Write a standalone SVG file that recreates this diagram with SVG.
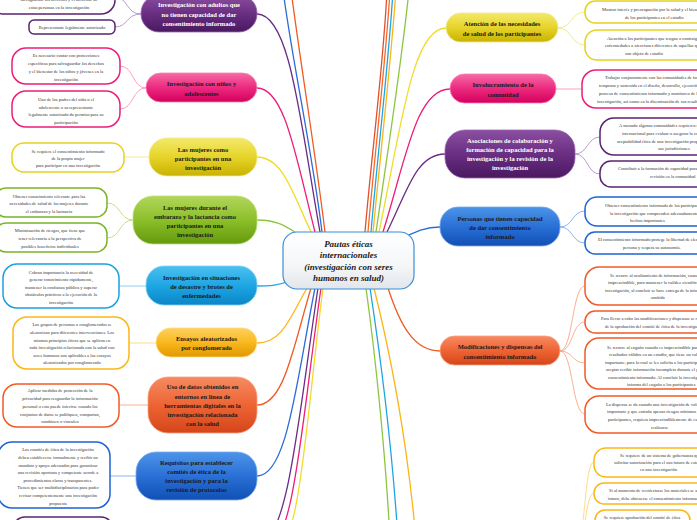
<svg xmlns="http://www.w3.org/2000/svg" width="697" height="520" viewBox="0 0 697 520">
<defs>
<linearGradient id="gPurple" x1="0" y1="0" x2="0" y2="1"><stop offset="0" stop-color="#8a4fa0"/><stop offset="0.5" stop-color="#6a2f82"/><stop offset="1" stop-color="#4a1860"/></linearGradient>
<linearGradient id="gPink" x1="0" y1="0" x2="0" y2="1"><stop offset="0" stop-color="#f56aa4"/><stop offset="0.5" stop-color="#ec2a80"/><stop offset="1" stop-color="#d4005c"/></linearGradient>
<linearGradient id="gYellow" x1="0" y1="0" x2="0" y2="1"><stop offset="0" stop-color="#f3e96a"/><stop offset="0.5" stop-color="#e6d42a"/><stop offset="1" stop-color="#c9b200"/></linearGradient>
<linearGradient id="gGreen" x1="0" y1="0" x2="0" y2="1"><stop offset="0" stop-color="#b2d65a"/><stop offset="0.5" stop-color="#8cbf2a"/><stop offset="1" stop-color="#649a0c"/></linearGradient>
<linearGradient id="gCyan" x1="0" y1="0" x2="0" y2="1"><stop offset="0" stop-color="#4cc0f0"/><stop offset="0.5" stop-color="#1ea6e4"/><stop offset="1" stop-color="#0a86c6"/></linearGradient>
<linearGradient id="gAmber" x1="0" y1="0" x2="0" y2="1"><stop offset="0" stop-color="#fdd060"/><stop offset="0.5" stop-color="#f9b81e"/><stop offset="1" stop-color="#e39800"/></linearGradient>
<linearGradient id="gRed" x1="0" y1="0" x2="0" y2="1"><stop offset="0" stop-color="#f68a62"/><stop offset="0.5" stop-color="#ee6434"/><stop offset="1" stop-color="#d4461a"/></linearGradient>
<linearGradient id="gBlue" x1="0" y1="0" x2="0" y2="1"><stop offset="0" stop-color="#4c94e8"/><stop offset="0.5" stop-color="#2a70d6"/><stop offset="1" stop-color="#1050b4"/></linearGradient>
<linearGradient id="gCenter" x1="0" y1="0" x2="0" y2="1"><stop offset="0" stop-color="#ffffff"/><stop offset="0.6" stop-color="#f4f6f8"/><stop offset="1" stop-color="#e2e6ea"/></linearGradient>
</defs>
<style>
.mt{font-family:"Liberation Serif",serif;font-weight:bold;font-size:6.5px;text-anchor:middle;fill:#1a1a1a}
.wt{fill:#ffffff}
.ct{font-family:"Liberation Serif",serif;font-size:4.5px;fill:#333333;text-anchor:middle}
.cl{text-anchor:start}
.box{fill:#ffffff;stroke-width:1.5}
.lk{fill:none;stroke-width:1.3}
.sb{fill:none;stroke-width:0.8}
.cen{font-family:"Liberation Serif",serif;font-weight:bold;font-style:italic;font-size:9px;text-anchor:middle;fill:#1a1a1a}
</style>
<rect width="697" height="520" fill="#ffffff"/>

<g id="connectors">
<!-- left upper -->
<path class="lk" stroke="#6a2d85" d="M320,232 C300,120 290,14 257,14"/>
<path class="lk" stroke="#ec1e79" d="M315,232 C296,158 285,88 257,88"/>
<path class="lk" stroke="#f0dc28" d="M311,232 C293,194 283,157 257,157"/>
<path class="lk" stroke="#8cc63f" d="M298,234 C285,226 277,220 257,220"/>
<path class="lk" stroke="#2b6dd6" d="M322,232 C312,150 292,60 283,-10"/>
<path class="lk" stroke="#f15a24" d="M325,232 C315,150 300,60 291,-10"/>
<!-- right upper -->
<path class="lk" stroke="#e0502c" d="M365,232 C372,150 384,60 387,-10"/>
<path class="lk" stroke="#f36b2a" d="M368,232 C375,150 386,60 390,-10"/>
<path class="lk" stroke="#1ea5e0" d="M371,232 C378,150 389,60 393,-10"/>
<path class="lk" stroke="#fbb616" d="M373,232 C381,150 391,60 396,-10"/>
<path class="lk" stroke="#8cc63f" d="M376,232 C388,150 402,60 409,-10"/>
<path class="lk" stroke="#f0dc28" d="M379,232 C401,128 412,28 446,28"/>
<path class="lk" stroke="#ec1e79" d="M383,232 C406,159 416,89 450,89"/>
<path class="lk" stroke="#6a2d85" d="M387,232 C407,192 416,154 445,154"/>
<path class="lk" stroke="#2b6dd6" d="M405,237 C415,232 425,227 440,227"/>
<!-- left lower -->
<path class="lk" stroke="#1ea5e0" d="M289,281 C278,286 268,286 257,286"/>
<path class="lk" stroke="#fbb616" d="M307,288 C290,318 282,343 257,343"/>
<path class="lk" stroke="#f15a24" d="M311,288 C293,348 284,405 257,405"/>
<path class="lk" stroke="#2b6dd6" d="M315,288 C296,384 287,476 257,476"/>
<path class="lk" stroke="#6a2d85" d="M318,288 C298,419 288,545 257,545"/>
<path class="lk" stroke="#ec1e79" d="M321,288 C302,419 294,550 265,550"/>
<path class="lk" stroke="#f0dc28" d="M323,288 C306,419 300,555 272,555"/>
<!-- right lower -->
<path class="lk" stroke="#f15a24" d="M388,288 C400,325 414,351 440,351"/>
<path class="lk" stroke="#8cc63f" d="M366,288 C376,360 386,460 390,540"/>
<path class="lk" stroke="#1ea5e0" d="M370,288 C381,360 393,460 398,540"/>
<path class="lk" stroke="#fbb616" d="M374,288 C392,360 408,450 416,540"/>
<!-- sub connectors -->
<path class="sb" stroke="#a97fc0" d="M141,14 C126,14 128,-3 115,-3 M141,14 C126,14 128,27 115,27"/>
<path class="sb" stroke="#f58bb5" d="M146,88 C132,88 134,66 120,66 M146,88 C132,88 134,109 120,109"/>
<path class="sb" stroke="#efe27a" d="M149,157 L124,157"/>
<path class="sb" stroke="#b5d96a" d="M133,220 C119,220 121,203 107,203 M133,220 C119,220 121,238 107,238"/>
<path class="sb" stroke="#6cc6ee" d="M146,286 L119,286"/>
<path class="sb" stroke="#fbd36a" d="M156,343 L129,343"/>
<path class="sb" stroke="#f79a7a" d="M148,405 L119,405"/>
<path class="sb" stroke="#6e9ee8" d="M136,476 L110,476"/>
<path class="sb" stroke="#efe27a" d="M558,28 C572,28 571,12 585,12 M558,28 C572,28 571,45 585,45"/>
<path class="sb" stroke="#f58bb5" d="M556,89 L582,89"/>
<path class="sb" stroke="#a97fc0" d="M575,154 C588,154 587,137 600,137 M575,154 C588,154 587,174 600,174"/>
<path class="sb" stroke="#6e9ee8" d="M560,227 C573,227 572,211 585,211 M560,227 C573,227 572,243 585,243"/>
<path class="sb" stroke="#f79a7a" d="M560,351 C573,351 572,286 585,286 M560,351 C573,351 572,322 585,322 M560,351 C573,351 572,363 585,363 M560,351 C573,351 572,414 585,414"/>
<path class="sb" stroke="#fbd36a" d="M575,545 C586,545 584,462 594,462 M575,545 C586,545 585,493 594,493 M575,545 C586,545 587,524 595,524"/>
</g>

<g id="center">
<rect x="283" y="232" width="131" height="57" rx="14" fill="url(#gCenter)" stroke="#3a8fd8" stroke-width="1.2"/>
<text class="cen" x="348.5" y="246.5">Pautas éticas</text>
<text class="cen" x="348.5" y="258">internacionales</text>
<text class="cen" x="348.5" y="269.5">(investigación con seres</text>
<text class="cen" x="348.5" y="281">humanos en salud)</text>
</g>

<g id="n-adultos">
<rect x="141" y="-5" width="116" height="37" rx="18" fill="url(#gPurple)" stroke="#9a66b0" stroke-width="0.8"/>
<text class="mt wt" x="199" y="7">Investigación con adultos que</text>
<text class="mt wt" x="199" y="16.5">no tienen capacidad de dar</text>
<text class="mt wt" x="199" y="26">consentimiento informado</text>
</g>
<g id="c-adultos-1">
<rect class="box" stroke="#5a2370" x="-10" y="-25" width="125" height="39" rx="14"/>
<text class="ct" x="59" y="1">salvaguardar los derechos y el bienestar de</text>
<text class="ct" x="59" y="8.5">estas personas en la investigación</text>
</g>
<g id="c-adultos-2">
<rect class="box" stroke="#5a2370" x="29" y="20" width="86" height="14" rx="5"/>
<text class="ct" x="72" y="28.5">Representante legalmente autorizado</text>
</g>

<g id="n-ninos">
<rect x="146" y="73" width="111" height="29" rx="14.5" fill="url(#gPink)" stroke="#f580b0" stroke-width="0.8"/>
<text class="mt" x="201.5" y="86">Investigación con niños y</text>
<text class="mt" x="201.5" y="95.5">adolescentes</text>
</g>
<g id="c-ninos-1">
<rect class="box" stroke="#ec1e79" x="12" y="48" width="108" height="36" rx="14"/>
<text class="ct" x="66" y="56.5">Es necesario contar con protecciones</text>
<text class="ct" x="66" y="64.5">específicas para salvaguardar los derechos</text>
<text class="ct" x="66" y="72.5">y el bienestar de los niños y jóvenes en la</text>
<text class="ct" x="66" y="80.5">investigación</text>
</g>
<g id="c-ninos-2">
<rect class="box" stroke="#ec1e79" x="12" y="91" width="108" height="36" rx="14"/>
<text class="ct" x="66" y="100.5">Uno de los padres del niño o el</text>
<text class="ct" x="66" y="108.5">adolescente o su representante</text>
<text class="ct" x="66" y="116">legalmente autorizado da permiso para su</text>
<text class="ct" x="66" y="123.5">participación</text>
</g>

<g id="n-mujeres">
<rect x="149" y="138" width="108" height="38" rx="18" fill="url(#gYellow)" stroke="#f3e98a" stroke-width="0.8"/>
<text class="mt" x="203" y="152">Las mujeres como</text>
<text class="mt" x="203" y="161">participantes en una</text>
<text class="mt" x="203" y="170">investigación</text>
</g>
<g id="c-mujeres-1">
<rect class="box" stroke="#e6d21e" x="12" y="143" width="112" height="29" rx="12"/>
<text class="ct" x="68" y="152.5">Se requiere el consentimiento informado</text>
<text class="ct" x="68" y="159.5">de la propia mujer</text>
<text class="ct" x="68" y="166.5">para participar en una investigación</text>
</g>

<g id="n-embarazo">
<rect x="133" y="196" width="124" height="48" rx="20" fill="url(#gGreen)" stroke="#bde07a" stroke-width="0.8"/>
<text class="mt" x="195" y="210">Las mujeres durante el</text>
<text class="mt" x="195" y="219">embarazo y la lactancia como</text>
<text class="mt" x="195" y="228">participantes en una</text>
<text class="mt" x="195" y="237">investigación</text>
</g>
<g id="c-embarazo-1">
<rect class="box" stroke="#7ab526" x="-5" y="188" width="112" height="29" rx="11"/>
<text class="ct" x="49" y="197.5">Obtener conocimiento relevante para las</text>
<text class="ct" x="49" y="205">necesidades de salud de las mujeres durante</text>
<text class="ct" x="49" y="212.5">el embarazo y la lactancia</text>
</g>
<g id="c-embarazo-2">
<rect class="box" stroke="#7ab526" x="-5" y="223" width="112" height="29" rx="11"/>
<text class="ct" x="50" y="231.5">Minimización de riesgos, que tiene que</text>
<text class="ct" x="50" y="239.5">tener relevancia a la perspectiva de</text>
<text class="ct" x="50" y="248">posibles beneficios individuales</text>
</g>

<g id="n-desastre">
<rect x="146" y="266" width="111" height="39" rx="18" fill="url(#gCyan)" stroke="#7ed2f4" stroke-width="0.8"/>
<text class="mt" x="201.5" y="280">Investigación en situaciones</text>
<text class="mt" x="201.5" y="289">de desastre y brotes de</text>
<text class="mt" x="201.5" y="298">enfermedades</text>
</g>
<g id="c-desastre-1">
<rect class="box" stroke="#1ba1e2" x="3" y="264" width="116" height="44" rx="14"/>
<text class="ct" x="61" y="273.5">Cobran importancia la necesidad de</text>
<text class="ct" x="61" y="280.5">generar conocimiento rápidamente,</text>
<text class="ct" x="61" y="288.5">mantener la confianza pública y superar</text>
<text class="ct" x="61" y="295.5">obstáculos prácticos a la ejecución de la</text>
<text class="ct" x="61" y="303.5">investigación</text>
</g>

<g id="n-conglomerado">
<rect x="156" y="328" width="101" height="29" rx="14.5" fill="url(#gAmber)" stroke="#fddc86" stroke-width="0.8"/>
<text class="mt" x="206.5" y="341">Ensayos aleatorizados</text>
<text class="mt" x="206.5" y="350">por conglomerado</text>
</g>
<g id="c-conglomerado-1">
<rect class="box" stroke="#fbb616" x="13" y="317" width="116" height="52" rx="14"/>
<text class="ct" x="72" y="325.5">Los grupos de personas o conglomerados se</text>
<text class="ct" x="72" y="333.5">aleatorizan para diferentes intervenciones. Los</text>
<text class="ct" x="72" y="341.5">mismos principios éticos que se aplican en</text>
<text class="ct" x="72" y="348.5">toda investigación relacionada con la salud con</text>
<text class="ct" x="72" y="356.5">seres humanos son aplicables a los ensayos</text>
<text class="ct" x="72" y="363.5">aleatorizados por conglomerado</text>
</g>

<g id="n-datos">
<rect x="148" y="377" width="109" height="56" rx="20" fill="url(#gRed)" stroke="#f8a283" stroke-width="0.8"/>
<text class="mt" x="202.5" y="389">Uso de datos obtenidos en</text>
<text class="mt" x="202.5" y="399">entornos en línea de</text>
<text class="mt" x="202.5" y="408">herramientas digitales en la</text>
<text class="mt" x="202.5" y="417">investigación relacionada</text>
<text class="mt" x="202.5" y="426">con la salud</text>
</g>
<g id="c-datos-1">
<rect class="box" stroke="#f05a28" x="3" y="384" width="116" height="43" rx="14"/>
<text class="ct" x="60" y="392">Aplicar medidas de protección de la</text>
<text class="ct" x="60" y="399.5">privacidad para resguardar la información</text>
<text class="ct" x="60" y="407.5">personal o esta puede inferirse cuando los</text>
<text class="ct" x="60" y="415.5">conjuntos de datos se publiquen, compartan,</text>
<text class="ct" x="60" y="422.5">combinen o vinculen</text>
</g>

<g id="n-comites">
<rect x="136" y="452" width="121" height="48" rx="20" fill="url(#gBlue)" stroke="#7aaaf0" stroke-width="0.8"/>
<text class="mt" x="196.5" y="465">Requisitos para establecer</text>
<text class="mt" x="196.5" y="474">comités de ética de la</text>
<text class="mt" x="196.5" y="483">investigación y para la</text>
<text class="mt" x="196.5" y="492">revisión de protocolos</text>
</g>
<g id="c-comites-1">
<rect class="box" stroke="#1e63d1" x="-2" y="442" width="112" height="66" rx="14"/>
<text class="ct" x="58" y="450.5">Los comités de ética de la investigación</text>
<text class="ct" x="58" y="458.5">deben establecerse formalmente y recibir un</text>
<text class="ct" x="58" y="466.5">mandato y apoyo adecuados para garantizar</text>
<text class="ct" x="58" y="473.5">una revisión oportuna y competente acorde a</text>
<text class="ct" x="58" y="481.5">procedimientos claros y transparentes.</text>
<text class="ct" x="58" y="488.5">Tienen que ser multidisciplinarios para poder</text>
<text class="ct" x="58" y="496.5">revisar competentemente una investigación</text>
<text class="ct" x="58" y="504.5">propuesta</text>
</g>
<g id="c-bottom-purple">
<rect class="box" stroke="#5a2370" x="13" y="517" width="100" height="30" rx="12"/>
</g>

<g id="n-atencion">
<rect x="446" y="13" width="112" height="29" rx="14.5" fill="url(#gYellow)" stroke="#f3e98a" stroke-width="0.8"/>
<text class="mt" x="502" y="26">Atención de las necesidades</text>
<text class="mt" x="502" y="35.5">de salud de los participantes</text>
</g>
<g id="c-atencion-1">
<rect class="box" stroke="#e6d21e" x="585" y="1" width="150" height="22" rx="10"/>
<text class="ct cl" x="602" y="10.5">Mostrar interés y preocupación por la salud y el bienestar</text>
<text class="ct cl" x="625" y="18.5">de los participantes en el estudio</text>
</g>
<g id="c-atencion-2">
<rect class="box" stroke="#e6d21e" x="585" y="30" width="150" height="30" rx="12"/>
<text class="ct cl" x="607" y="39.5">Atención a los participantes que tengan o contraigan</text>
<text class="ct cl" x="605" y="47">enfermedades o afecciones diferentes de aquellas que</text>
<text class="ct cl" x="625" y="54.5">son objeto de estudio</text>
</g>

<g id="n-comunidad">
<rect x="450" y="74" width="106" height="29" rx="14.5" fill="url(#gPink)" stroke="#f580b0" stroke-width="0.8"/>
<text class="mt" x="503" y="87">Involucramiento de la</text>
<text class="mt" x="503" y="96.5">comunidad</text>
</g>
<g id="c-comunidad-1">
<rect class="box" stroke="#ec1e79" x="582" y="70" width="150" height="38" rx="14"/>
<text class="ct cl" x="605" y="78.5">Trabajar conjuntamente con las comunidades de forma</text>
<text class="ct cl" x="599" y="86.5">temprana y sostenida en el diseño, desarrollo, ejecución,</text>
<text class="ct cl" x="599" y="94.5">proceso de consentimiento informado y monitoreo de la</text>
<text class="ct cl" x="597" y="102.5">investigación, así como en la diseminación de sus resultados</text>
</g>

<g id="n-asociaciones">
<rect x="445" y="130" width="130" height="48" rx="20" fill="url(#gPurple)" stroke="#9a66b0" stroke-width="0.8"/>
<text class="mt wt" x="510" y="143">Asociaciones de colaboración y</text>
<text class="mt wt" x="510" y="152">formación de capacidad para la</text>
<text class="mt wt" x="510" y="161">investigación y la revisión de la</text>
<text class="mt wt" x="510" y="170">investigación</text>
</g>
<g id="c-asociaciones-1">
<rect class="box" stroke="#5a2370" x="600" y="118" width="150" height="37" rx="14"/>
<text class="ct cl" x="619" y="126.5">A menudo algunas comunidades requieren una revisión</text>
<text class="ct cl" x="622" y="134.5">internacional para evaluar o asegurar la calidad y</text>
<text class="ct cl" x="617" y="142.5">aceptabilidad ética de una investigación propuesta en</text>
<text class="ct cl" x="658" y="150">sus jurisdicciones</text>
</g>
<g id="c-asociaciones-2">
<rect class="box" stroke="#5a2370" x="600" y="161" width="150" height="26" rx="11"/>
<text class="ct cl" x="618" y="169.5">Contribuir a la formación de capacidad para la</text>
<text class="ct cl" x="650" y="177.5">revisión en la comunidad</text>
</g>

<g id="n-capacidad">
<rect x="440" y="207" width="120" height="39" rx="18" fill="url(#gBlue)" stroke="#7aaaf0" stroke-width="0.8"/>
<text class="mt" x="500" y="221">Personas que tienen capacidad</text>
<text class="mt" x="500" y="230">de dar consentimiento</text>
<text class="mt" x="500" y="239">informado</text>
</g>
<g id="c-capacidad-1">
<rect class="box" stroke="#1e63d1" x="585" y="197" width="150" height="29" rx="12"/>
<text class="ct cl" x="605" y="206.5">Obtener consentimiento informado de los participantes en</text>
<text class="ct cl" x="610" y="214.5">la investigación que comprenden adecuadamente los</text>
<text class="ct cl" x="630" y="221.5">hechos importantes</text>
</g>
<g id="c-capacidad-2">
<rect class="box" stroke="#1e63d1" x="585" y="232" width="150" height="22" rx="10"/>
<text class="ct cl" x="598" y="240.5">El consentimiento informado protege la libertad de elección de la</text>
<text class="ct cl" x="623" y="248.5">persona y respeta su autonomía.</text>
</g>

<g id="n-modificaciones">
<rect x="440" y="336" width="120" height="29" rx="14.5" fill="url(#gRed)" stroke="#f8a283" stroke-width="0.8"/>
<text class="mt" x="500" y="349">Modificaciones y dispensas del</text>
<text class="mt" x="500" y="358.5">consentimiento informado</text>
</g>
<g id="c-modificaciones-1">
<rect class="box" stroke="#f05a28" x="585" y="267" width="150" height="38" rx="14"/>
<text class="ct cl" x="610" y="276.5">Se recurre al ocultamiento de información, cuando es</text>
<text class="ct cl" x="608" y="284">imprescindible, para mantener la validez científica de la</text>
<text class="ct cl" x="605" y="291.5">investigación, al concluir se hace entrega de la información</text>
<text class="ct cl" x="651" y="298.5">omitida</text>
</g>
<g id="c-modificaciones-2">
<rect class="box" stroke="#f05a28" x="585" y="311" width="150" height="22" rx="10"/>
<text class="ct cl" x="601" y="319.5">Para llevar a cabo las modificaciones y dispensas se requiere</text>
<text class="ct cl" x="605" y="327.5">de la aprobación del comité de ética de la investigación</text>
</g>
<g id="c-modificaciones-3">
<rect class="box" stroke="#f05a28" x="585" y="338" width="150" height="51" rx="14"/>
<text class="ct cl" x="607" y="348.5">Se recurre al engaño cuando es imprescindible para obtener</text>
<text class="ct cl" x="609" y="356">resultados válidos en un estudio, que tiene un valor social</text>
<text class="ct cl" x="605" y="363.5">importante; para lo cual se les solicita a los participantes</text>
<text class="ct cl" x="606" y="371">aceptar recibir información incompleta durante el proceso de</text>
<text class="ct cl" x="608" y="378.5">consentimiento informado. Al concluir la investigación se</text>
<text class="ct cl" x="627" y="386">informa del engaño a los participantes</text>
</g>
<g id="c-modificaciones-4">
<rect class="box" stroke="#f05a28" x="585" y="396" width="150" height="37" rx="14"/>
<text class="ct cl" x="606" y="405.5">La dispensa se da cuando una investigación de valor social</text>
<text class="ct cl" x="607" y="413">importante y que entraña apenas riesgos mínimos para los</text>
<text class="ct cl" x="608" y="420.5">participantes, requiera imprescindiblemente de esta para</text>
<text class="ct cl" x="651" y="428.5">realizarse</text>
</g>

<g id="c-materiales-1">
<rect class="box" stroke="#fbb616" x="594" y="448" width="150" height="29" rx="12"/>
<text class="ct cl" x="620" y="456.5">Se requiere de un sistema de gobernanza que permita</text>
<text class="ct cl" x="614" y="463.5">solicitar autorización para el uso futuro de estos materiales</text>
<text class="ct cl" x="640" y="471">en una investigación</text>
</g>
<g id="c-materiales-2">
<rect class="box" stroke="#fbb616" x="594" y="483" width="150" height="21" rx="10"/>
<text class="ct cl" x="609" y="491.5">Si al momento de recolectarse los materiales se anticipa su uso</text>
<text class="ct cl" x="608" y="499.5">futuro, debe obtenerse el consentimiento informado</text>
</g>
<g id="c-materiales-3">
<rect class="box" stroke="#fbb616" x="595" y="510" width="95" height="30" rx="10"/>
<text class="ct" x="642" y="518.5">Se requiere aprobación del comité de ética</text>
</g>
</svg>
